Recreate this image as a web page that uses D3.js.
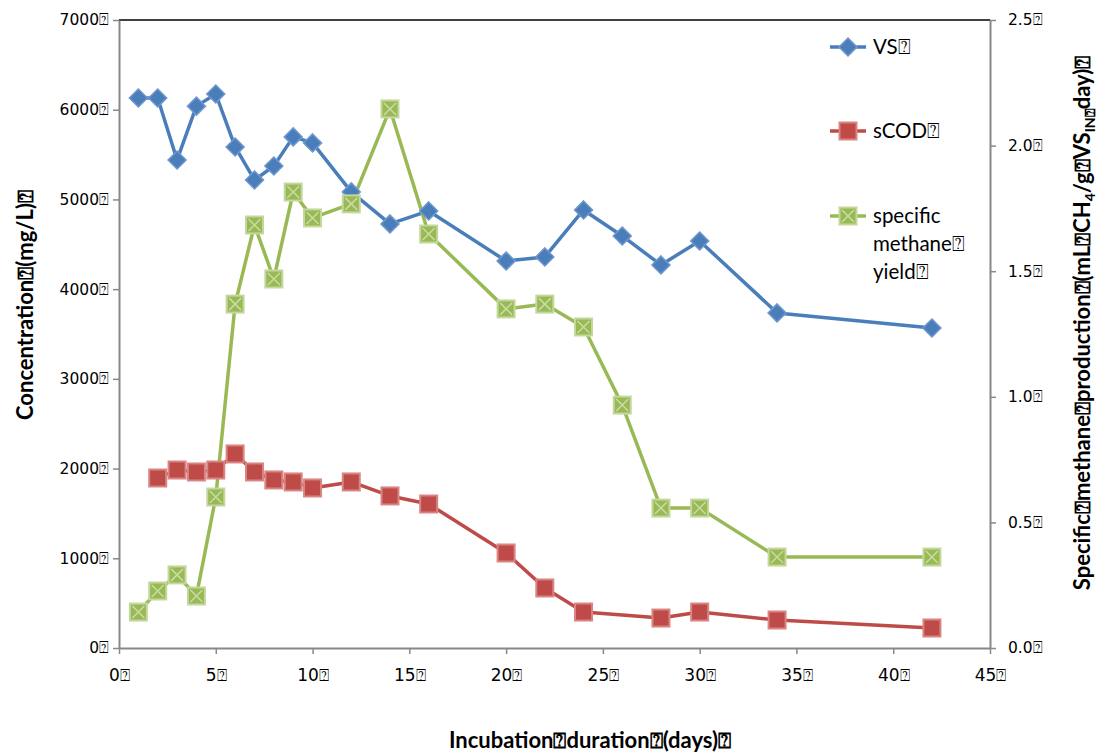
<!DOCTYPE html>
<html><head><meta charset="utf-8">
<script src="https://cdn.jsdelivr.net/npm/d3@7"></script>
<style>
body{margin:0;background:#fff;}
text{font-family:"DejaVu Sans",Verdana,sans-serif;}
.ttl{font-family:"Lato","Open Sans",sans-serif;font-weight:bold;}
.leg{font-family:"Lato","Open Sans",sans-serif;}
</style></head>
<body>
<svg id="c" width="1098" height="752"></svg>
<script>
const B = "\u2370";
const vsDays = [1,2,3,4,5,6,7,8,9,10,12,14,16,20,22,24,26,28,30,34,42];
const vsVals = [6130,6130,5440,6040,6175,5585,5217,5373,5697,5630,5084,4727,4872,4314,4359,4883,4593,4270,4537,3735,3567];
const codDays = [2,3,4,5,6,7,8,9,10,12,14,16,20,22,24,28,30,34,42];
const codVals = [1895,1984,1962,1984,2163,1962,1873,1851,1784,1851,1695,1605,1059,669,401,334,401,312,223];
const chDays = [1,2,3,4,5,6,7,8,9,10,12,14,16,20,22,24,26,28,30,34,42];
const chVals = [0.143,0.227,0.291,0.207,0.601,1.369,1.684,1.469,1.815,1.712,1.768,2.146,1.648,1.350,1.369,1.278,0.967,0.557,0.557,0.362,0.362];
const xTicks = [0,5,10,15,20,25,30,35,40,45];
const yLTicks = [0,1000,2000,3000,4000,5000,6000,7000];
const yRTicks = [0,0.5,1.0,1.5,2.0,2.5];

const svg = d3.select("#c");
const L=119, R=990, T=20, Bt=648;
const x = d3.scaleLinear().domain([0,45]).range([L,R]);
const yl = d3.scaleLinear().domain([0,7000]).range([Bt,T]);
const yr = d3.scaleLinear().domain([0,2.5]).range([Bt,T]);
const axCol = "#888";

function styleAxis(g){
  g.attr("font-size",15.5).attr("font-family",null);
  g.select(".domain").attr("stroke",axCol).attr("stroke-width",2);
  g.selectAll(".tick line").attr("stroke",axCol).attr("stroke-width",1.5);
  g.selectAll(".tick text").attr("fill","#000");
}
svg.append("line").attr("x1",L).attr("x2",R).attr("y1",T).attr("y2",T).attr("stroke","#000").attr("stroke-width",1.5);

const gx = svg.append("g").attr("transform",`translate(0,${Bt})`)
  .call(d3.axisBottom(x).tickValues(xTicks).tickSize(6).tickSizeOuter(0).tickPadding(15).tickFormat(d=>d+B));
styleAxis(gx);
gx.attr("font-family","Lato,'Open Sans',sans-serif").attr("font-size",17);
const gl = svg.append("g").attr("transform",`translate(${L},0)`)
  .call(d3.axisLeft(yl).tickValues(yLTicks).tickSize(6).tickSizeOuter(0).tickPadding(4).tickFormat(d=>d+B));
styleAxis(gl);
const gr = svg.append("g").attr("transform",`translate(${R},0)`)
  .call(d3.axisRight(yr).tickValues(yRTicks).tickSize(6).tickSizeOuter(0).tickPadding(12).tickFormat(d=>d.toFixed(1)+B));
styleAxis(gr);

const blue="#4A7EBB", red="#BE4B48", green="#98B954";
function series(days, vals, ys, color){
  const pts = days.map((d,i)=>[x(d), ys(vals[i])]);
  svg.append("path").attr("d", d3.line()(pts)).attr("fill","none").attr("stroke",color).attr("stroke-width",3.5).attr("stroke-linejoin","round");
  return pts;
}
function diamond(g,cx,cy){
  g.append("path").attr("d",`M${cx},${cy-9}L${cx+9},${cy}L${cx},${cy+9}L${cx-9},${cy}Z`).attr("fill",blue).attr("stroke","#6f97cc").attr("stroke-width",1.5);
}
function square(g,cx,cy){
  g.append("rect").attr("x",cx-8.5).attr("y",cy-8.5).attr("width",17).attr("height",17).attr("fill",red).attr("stroke","#d88583").attr("stroke-width",2);
}
function xsquare(g,cx,cy){
  g.append("rect").attr("x",cx-8.5).attr("y",cy-8.5).attr("width",17).attr("height",17).attr("fill",green).attr("stroke","#c4d89e").attr("stroke-width",2);
  g.append("path").attr("d",`M${cx-6},${cy-6}L${cx+6},${cy+6}M${cx+6},${cy-6}L${cx-6},${cy+6}`).attr("stroke","#c9dca6").attr("stroke-width",1.5);
}
const p1 = series(vsDays, vsVals, yl, blue);
const p2 = series(codDays, codVals, yl, red);
const p3 = series(chDays, chVals, yr, green);
const gm = svg.append("g");
p1.forEach(p=>diamond(gm,p[0],p[1]));
p2.forEach(p=>square(gm,p[0],p[1]));
p3.forEach(p=>xsquare(gm,p[0],p[1]));

const legend = [["VS"+B, blue, diamond, 47],["sCOD"+B, red, square, 131],["specific", green, xsquare, 216]];
legend.forEach(([t,c,f,yy])=>{
  svg.append("line").attr("x1",830).attr("x2",866).attr("y1",yy).attr("y2",yy).attr("stroke",c).attr("stroke-width",3.5);
  f(svg,848,yy);
  svg.append("text").attr("class","leg").attr("x",873).attr("y",yy+7).attr("font-size",20.5).text(t);
});
svg.append("text").attr("class","leg").attr("x",873).attr("y",251).attr("font-size",20.5).text("methane"+B);
svg.append("text").attr("class","leg").attr("x",873).attr("y",279).attr("font-size",20.5).text("yield"+B);

svg.append("text").attr("class","ttl").attr("font-size",22).attr("text-anchor","middle")
  .attr("transform","translate(33,305) rotate(-90)").text("Concentration"+B+"(mg/L)"+B);
const rt = svg.append("text").attr("class","ttl").attr("font-size",22).attr("text-anchor","middle")
  .attr("transform","translate(1090,323) rotate(-90)");
rt.append("tspan").text("Specific"+B+"methane"+B+"production"+B+"(mL"+B+"CH");
rt.append("tspan").attr("font-size",14).attr("dy",5).text("4");
rt.append("tspan").attr("dy",-5).text("/g"+B+"VS");
rt.append("tspan").attr("font-size",14).attr("dy",5).text("IN"+B);
rt.append("tspan").attr("dy",-5).text("day)"+B);
svg.append("text").attr("class","ttl").attr("font-size",22).attr("text-anchor","middle")
  .attr("x",590).attr("y",748).text("Incubation"+B+"duration"+B+"(days)"+B);
</script>
</body></html>
